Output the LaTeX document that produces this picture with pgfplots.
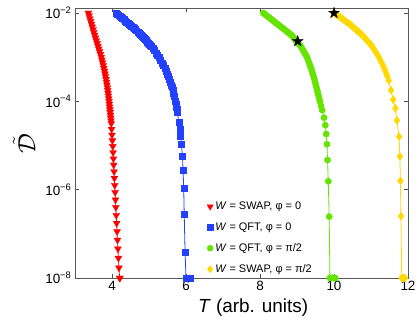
\documentclass[border=0pt]{standalone}
\usepackage{pgfplots}
\pgfplotsset{compat=1.18}
\usepackage{pgfplotstable}
\usepackage{fontspec}
\setmainfont{Liberation Sans}
\usetikzlibrary{plotmarks}

\definecolor{cred}{RGB}{255,0,0}
\definecolor{cblue}{RGB}{35,65,255}
\definecolor{cgreen}{RGB}{100,228,0}
\definecolor{cyellow}{RGB}{255,216,0}

\pgfdeclareplotmark{fivestar}{%
  \pgfpathmoveto{\pgfqpointpolar{90}{\pgfplotmarksize}}%
  \pgfpathlineto{\pgfqpointpolar{126}{0.382\pgfplotmarksize}}%
  \pgfpathlineto{\pgfqpointpolar{162}{\pgfplotmarksize}}%
  \pgfpathlineto{\pgfqpointpolar{198}{0.382\pgfplotmarksize}}%
  \pgfpathlineto{\pgfqpointpolar{234}{\pgfplotmarksize}}%
  \pgfpathlineto{\pgfqpointpolar{270}{0.382\pgfplotmarksize}}%
  \pgfpathlineto{\pgfqpointpolar{306}{\pgfplotmarksize}}%
  \pgfpathlineto{\pgfqpointpolar{342}{0.382\pgfplotmarksize}}%
  \pgfpathlineto{\pgfqpointpolar{18}{\pgfplotmarksize}}%
  \pgfpathlineto{\pgfqpointpolar{54}{0.382\pgfplotmarksize}}%
  \pgfpathclose
  \pgfusepathqfillstroke}

% T = time, L = log10 of the error
\pgfplotstableread{
T L
3.360 -2.0000
3.381 -2.0625
3.403 -2.125
3.424 -2.1875
3.445 -2.25
3.466 -2.3125
3.488 -2.375
3.509 -2.4375
3.530 -2.50
3.553 -2.5625
3.575 -2.625
3.598 -2.6875
3.620 -2.75
3.643 -2.8125
3.665 -2.875
3.688 -2.9375
3.710 -3.00
3.728 -3.0625
3.745 -3.125
3.763 -3.1875
3.780 -3.25
3.795 -3.3125
3.810 -3.375
3.825 -3.4375
3.840 -3.50
3.851 -3.5625
3.863 -3.625
3.874 -3.6875
3.885 -3.75
3.894 -3.8125
3.903 -3.875
3.911 -3.9375
3.920 -4.00
3.928 -4.0625
3.935 -4.125
3.943 -4.1875
3.950 -4.25
3.958 -4.3125
3.965 -4.375
3.973 -4.4375
3.980 -4.50
3.990 -4.63
4.001 -4.76
4.011 -4.89
4.021 -5.02
4.030 -5.16
4.038 -5.30
4.046 -5.44
4.055 -5.59
4.064 -5.74
4.074 -5.90
4.084 -6.06
4.094 -6.23
4.104 -6.40
4.115 -6.58
4.126 -6.76
4.137 -6.95
4.148 -7.14
4.160 -7.34
4.173 -7.55
4.188 -7.77
4.205 -8.00
4.215 -8.00
}\redtab

\pgfplotstableread{
T L
4.110 -2.00
4.145 -2.025
4.180 -2.05
4.215 -2.075
4.250 -2.10
4.285 -2.125
4.320 -2.15
4.355 -2.175
4.390 -2.20
4.425 -2.225
4.460 -2.25
4.494 -2.275
4.528 -2.30
4.562 -2.325
4.596 -2.35
4.630 -2.375
4.664 -2.40
4.698 -2.425
4.732 -2.45
4.766 -2.475
4.800 -2.50
4.827 -2.525
4.854 -2.55
4.881 -2.575
4.908 -2.60
4.935 -2.625
4.962 -2.65
4.989 -2.675
5.016 -2.70
5.043 -2.725
5.070 -2.75
5.110 -2.80
5.150 -2.85
5.190 -2.90
5.230 -2.95
5.270 -3.00
5.310 -3.0625
5.350 -3.125
5.390 -3.1875
5.430 -3.25
5.460 -3.3125
5.490 -3.375
5.520 -3.4375
5.550 -3.50
5.573 -3.5625
5.595 -3.625
5.618 -3.6875
5.640 -3.75
5.658 -3.8125
5.675 -3.875
5.693 -3.9375
5.710 -4.00
5.724 -4.0625
5.738 -4.125
5.751 -4.1875
5.765 -4.25
5.805 -4.47
5.829 -4.62
5.855 -4.79
5.876 -4.97
5.905 -5.24
5.920 -5.55
5.938 -5.96
5.952 -6.56
5.975 -7.41
6.000 -8.00
6.020 -8.00
6.040 -8.00
6.060 -8.00
6.080 -8.00
6.100 -8.00
6.120 -8.00
}\bluetab

\pgfplotstableread{
T L
8.090 -2.00
8.128 -2.025
8.166 -2.05
8.204 -2.075
8.242 -2.10
8.280 -2.125
8.318 -2.15
8.356 -2.175
8.394 -2.20
8.432 -2.225
8.470 -2.25
8.508 -2.275
8.546 -2.30
8.584 -2.325
8.622 -2.35
8.660 -2.375
8.698 -2.40
8.736 -2.425
8.774 -2.45
8.812 -2.475
8.850 -2.50
8.875 -2.525
8.900 -2.55
8.925 -2.575
8.950 -2.60
8.975 -2.625
9.000 -2.65
9.025 -2.675
9.050 -2.70
9.075 -2.725
9.100 -2.75
9.134 -2.80
9.168 -2.85
9.202 -2.90
9.236 -2.95
9.270 -3.00
9.298 -3.0625
9.325 -3.125
9.353 -3.1875
9.380 -3.25
9.403 -3.3125
9.425 -3.375
9.448 -3.4375
9.470 -3.50
9.489 -3.5625
9.508 -3.625
9.526 -3.6875
9.545 -3.75
9.564 -3.8125
9.583 -3.875
9.601 -3.9375
9.620 -4.00
9.650 -4.10
9.680 -4.20
9.730 -4.37
9.765 -4.54
9.790 -4.74
9.810 -4.97
9.825 -5.33
9.845 -5.81
9.870 -6.61
9.890 -8.00
9.920 -8.00
9.950 -8.00
9.980 -8.00
10.010 -8.00
10.030 -8.00
}\greentab

\pgfplotstableread{
T L
10.010 -2.00
10.051 -2.025
10.092 -2.05
10.133 -2.075
10.174 -2.10
10.215 -2.125
10.256 -2.15
10.297 -2.175
10.338 -2.20
10.379 -2.225
10.420 -2.25
10.454 -2.275
10.488 -2.30
10.522 -2.325
10.556 -2.35
10.590 -2.375
10.624 -2.40
10.658 -2.425
10.692 -2.45
10.726 -2.475
10.760 -2.50
10.787 -2.525
10.814 -2.55
10.841 -2.575
10.868 -2.60
10.895 -2.625
10.922 -2.65
10.949 -2.675
10.976 -2.70
11.003 -2.725
11.030 -2.75
11.066 -2.80
11.102 -2.85
11.138 -2.90
11.174 -2.95
11.210 -3.00
11.248 -3.0625
11.285 -3.125
11.323 -3.1875
11.360 -3.25
11.388 -3.3125
11.415 -3.375
11.443 -3.4375
11.480 -3.53
11.540 -3.75
11.600 -3.96
11.660 -4.16
11.700 -4.43
11.760 -4.80
11.780 -5.25
11.795 -5.80
11.810 -6.60
11.830 -8.00
11.860 -8.00
11.890 -8.00
11.920 -8.00
}\yellowtab

\pgfplotstableread{
T L
9.02 -2.64
10.00 -2.00
}\startab

\begin{document}
\begin{tikzpicture}
\begin{axis}[
  name=ax,
  width=333bp, height=269.7bp, scale only axis,
  xmin=3, xmax=12, ymin=1e-8, ymax=0.01276,
  ymode=log,
  xtick={4,6,8,10,12},
  ytick={1e-8,1e-6,1e-4,1e-2},
  yticklabels={10\textsuperscript{−8},10\textsuperscript{−6},10\textsuperscript{−4},10\textsuperscript{−2}},
  yminorticks=false,
  tick align=inside,
  xtick pos=both, ytick pos=both,
  major tick length=4bp,
  axis line style={black!65},
  every tick/.style={black!70},
  tick label style={font=\fontsize{13.5}{13.5}\selectfont},
  /pgf/number format/assume math mode=true,
  xlabel={\textit{T} (arb. units)},
  xlabel style={font=\fontsize{19}{19}\selectfont, at={(axis description cs:0.535,0)}, anchor=north, inner sep=0pt, yshift=-21bp},
  ylabel={$\tilde{\mathcal{D}}$},
  ylabel style={font=\fontsize{24}{24}\selectfont, at={(axis description cs:-0.153,0.5)}, anchor=center},
  clip=false,
  legend cell align=left,
  legend style={at={(0.396,0.290)}, anchor=north west, draw=none, fill=none, inner sep=0pt,
    font=\fontsize{11}{11}\selectfont, row sep=7.6bp},
  legend image code/.code={\draw[mark repeat=2,mark phase=2,#1] plot coordinates {(0cm,0cm)(0.15cm,0cm)(0.3cm,0cm)};},
]
\addlegendimage{only marks, mark=triangle*, mark size=3.6pt, mark options={rotate=180, fill=cred, draw=cred}}
\addlegendentry{\textit{W} = SWAP, φ = 0}
\addlegendimage{only marks, mark=square*, mark size=2.8pt, mark options={fill=cblue, draw=cblue}}
\addlegendentry{\textit{W} = QFT, φ = 0}
\addlegendimage{only marks, mark=*, mark size=3pt, mark options={fill=cgreen, draw=cgreen}}
\addlegendentry{\textit{W} = QFT, φ = π/2}
\addlegendimage{only marks, mark=diamond*, mark size=3.6pt, mark options={fill=cyellow, draw=cyellow}}
\addlegendentry{\textit{W} = SWAP, φ = π/2}

\addplot[forget plot, cred, line width=0.8pt, mark=triangle*, mark size=4pt, mark options={rotate=180, fill=cred, draw=cred, line width=0.3pt}]
  table[x=T, y expr={10^(\thisrow{L})}] {\redtab};
\addplot[forget plot, cblue, line width=0.8pt, mark=square*, mark size=3pt, mark options={fill=cblue, draw=cblue, line width=0.3pt}]
  table[x=T, y expr={10^(\thisrow{L})}] {\bluetab};
\addplot[forget plot, cgreen, line width=0.8pt, mark=*, mark size=3.2pt, mark options={fill=cgreen, draw=cgreen, line width=0.3pt}]
  table[x=T, y expr={10^(\thisrow{L})}] {\greentab};
\addplot[forget plot, cyellow, line width=0.8pt, mark=diamond*, mark size=4pt, mark options={fill=cyellow, draw=cyellow, line width=0.3pt}]
  table[x=T, y expr={10^(\thisrow{L})}] {\yellowtab};
\addplot[forget plot, only marks, mark=fivestar, mark size=5.8pt, mark options={fill=black, draw=black, line width=0.3pt}]
  table[x=T, y expr={10^(\thisrow{L})}] {\startab};
\end{axis}
\pgfresetboundingbox
\path[use as bounding box] ([shift={(-75bp,-43bp)}]ax.south west) rectangle ([shift={(11bp,8.3bp)}]ax.north east);
\end{tikzpicture}
\end{document}
